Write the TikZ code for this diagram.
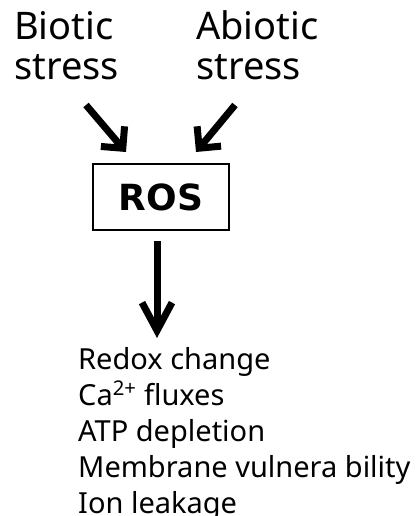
\documentclass[tikz,border=0pt]{standalone}
\usepackage{fontspec}
\setmainfont{Noto Sans}
\newfontfamily\rosfont{DejaVu Sans}
\usetikzlibrary{arrows.meta}
\begin{document}
\begin{tikzpicture}[x=1pt,y=1pt,
  stresslabel/.style={anchor=base west,inner sep=0pt,align=left,
    font=\fontsize{38}{40}\selectfont},
  rosbox/.style={draw,line width=2pt,minimum width=136pt,minimum height=66pt,
    inner sep=0pt,font=\rosfont\bfseries\fontsize{36}{36}\selectfont},
  effects/.style={anchor=base west,inner sep=0pt,align=left,
    font=\fontsize{29}{36}\selectfont},
  inarrow/.style={line width=7pt,-{Straight Barb[angle=90:22pt,line width=7pt]}},
  outarrow/.style={line width=7pt,-{Straight Barb[length=28pt,width=30pt,line width=7pt]}}
]
\useasboundingbox (0,0) rectangle (417,-516);

% base anchors sit on the last line of each label
\node[stresslabel] (biotic) at (14,-80) {Biotic\\stress};
\node[stresslabel] (abiotic) at (196,-80) {Abiotic\\stress};
\node[rosbox] (ros) at (161,-197) {ROS\hspace{9pt}};
\node[effects] (effects) at (78,-513)
  {Redox change\\Ca\textsuperscript{2+} fluxes\\ATP depletion\\Membrane vulnera bility\\Ion leakage};

\draw[inarrow] ([shift={(72,-25)}]biotic.base west) -- ([shift={(-35,11)}]ros.north);
\draw[inarrow] ([shift={(39,-25)}]abiotic.base west) -- ([shift={(35,11)}]ros.north);
\draw[outarrow] ([xshift=-4pt,yshift=-10pt]ros.south) -- ([shift={(79,175)}]effects.base west);
\end{tikzpicture}
\end{document}
